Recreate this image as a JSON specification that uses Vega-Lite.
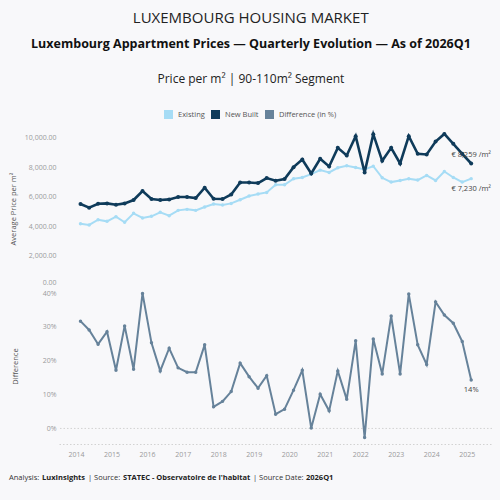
{
  "$schema": "https://vega.github.io/schema/vega-lite/v6.json",
  "background": "#f8f8fa",
  "padding": {"left": 9, "top": 10, "right": 7, "bottom": 30},
  "config": {
    "font": "Open Sans",
    "view": {"stroke": null},
    "legend": {"layout": {"top": {"anchor": "middle"}}}
  },
  "title": {
    "text": "LUXEMBOURG HOUSING MARKET",
    "fontSize": 15,
    "fontWeight": "normal",
    "color": "#222222",
    "anchor": "middle",
    "offset": 12
  },
  "datasets": {
    "prices": [
      {"date": "2014-02-15", "existing": 4169, "new_built": 5505, "difference": 0.317},
      {"date": "2014-05-15", "existing": 4080, "new_built": 5254, "difference": 0.291},
      {"date": "2014-08-15", "existing": 4440, "new_built": 5525, "difference": 0.249},
      {"date": "2014-11-15", "existing": 4327, "new_built": 5546, "difference": 0.286},
      {"date": "2015-02-15", "existing": 4644, "new_built": 5458, "difference": 0.172},
      {"date": "2015-05-15", "existing": 4260, "new_built": 5546, "difference": 0.303},
      {"date": "2015-08-15", "existing": 4870, "new_built": 5775, "difference": 0.175},
      {"date": "2015-11-15", "existing": 4554, "new_built": 6386, "difference": 0.399},
      {"date": "2016-02-15", "existing": 4667, "new_built": 5844, "difference": 0.253},
      {"date": "2016-05-15", "existing": 4938, "new_built": 5775, "difference": 0.170},
      {"date": "2016-08-15", "existing": 4712, "new_built": 5819, "difference": 0.237},
      {"date": "2016-11-15", "existing": 5073, "new_built": 5978, "difference": 0.179},
      {"date": "2017-02-15", "existing": 5141, "new_built": 5978, "difference": 0.166},
      {"date": "2017-05-15", "existing": 5073, "new_built": 5910, "difference": 0.166},
      {"date": "2017-08-15", "existing": 5300, "new_built": 6610, "difference": 0.247},
      {"date": "2017-11-15", "existing": 5510, "new_built": 5864, "difference": 0.064},
      {"date": "2018-02-15", "existing": 5435, "new_built": 5844, "difference": 0.080},
      {"date": "2018-05-15", "existing": 5546, "new_built": 6158, "difference": 0.109},
      {"date": "2018-08-15", "existing": 5797, "new_built": 6970, "difference": 0.193},
      {"date": "2018-11-15", "existing": 6045, "new_built": 6970, "difference": 0.153},
      {"date": "2019-02-15", "existing": 6180, "new_built": 6926, "difference": 0.119},
      {"date": "2019-05-15", "existing": 6293, "new_built": 7265, "difference": 0.156},
      {"date": "2019-08-15", "existing": 6814, "new_built": 7085, "difference": 0.042},
      {"date": "2019-11-15", "existing": 6814, "new_built": 7198, "difference": 0.057},
      {"date": "2020-02-15", "existing": 7220, "new_built": 8012, "difference": 0.113},
      {"date": "2020-05-15", "existing": 7310, "new_built": 8530, "difference": 0.172},
      {"date": "2020-08-15", "existing": 7537, "new_built": 7582, "difference": 0.001},
      {"date": "2020-11-15", "existing": 7808, "new_built": 8576, "difference": 0.101},
      {"date": "2021-02-15", "existing": 7650, "new_built": 8056, "difference": 0.052},
      {"date": "2021-05-15", "existing": 7966, "new_built": 9322, "difference": 0.170},
      {"date": "2021-08-15", "existing": 8100, "new_built": 8802, "difference": 0.086},
      {"date": "2021-11-15", "existing": 7989, "new_built": 10115, "difference": 0.259},
      {"date": "2022-02-15", "existing": 7853, "new_built": 7650, "difference": -0.027},
      {"date": "2022-05-15", "existing": 8080, "new_built": 10250, "difference": 0.264},
      {"date": "2022-08-15", "existing": 7288, "new_built": 8440, "difference": 0.161},
      {"date": "2022-11-15", "existing": 6995, "new_built": 9322, "difference": 0.332},
      {"date": "2023-02-15", "existing": 7107, "new_built": 8260, "difference": 0.161},
      {"date": "2023-05-15", "existing": 7220, "new_built": 10115, "difference": 0.397},
      {"date": "2023-08-15", "existing": 7130, "new_built": 8915, "difference": 0.247},
      {"date": "2023-11-15", "existing": 7446, "new_built": 8870, "difference": 0.189},
      {"date": "2024-02-15", "existing": 7107, "new_built": 9750, "difference": 0.374},
      {"date": "2024-05-15", "existing": 7717, "new_built": 10270, "difference": 0.335},
      {"date": "2024-08-15", "existing": 7310, "new_built": 9593, "difference": 0.311},
      {"date": "2024-11-15", "existing": 6995, "new_built": 8915, "difference": 0.257},
      {"date": "2025-02-15", "existing": 7230, "new_built": 8259, "difference": 0.143}
    ]
  },
  "spacing": 16,
  "resolve": {"legend": {"color": "independent"}},
  "vconcat": [
    {
      "spacing": 30,
      "bounds": "flush",
      "resolve": {"legend": {"color": "independent"}},
      "hconcat": [
        {"width": 0, "height": 0, "data": {"values": [{}]}, "mark": {"type": "point", "opacity": 0, "size": 0}, "encoding": {}},
        {
          "title": {
            "text": "Luxembourg Appartment Prices — Quarterly Evolution — As of 2026Q1",
            "subtitle": "Price per m² | 90-110m² Segment",
            "fontSize": 12.5,
            "fontWeight": "bold",
            "color": "#111111",
            "subtitleFontSize": 12,
            "subtitleColor": "#222222",
            "subtitlePadding": 24,
            "anchor": "middle",
            "offset": 25
          },
          "spacing": 3,
          "vconcat": [
            {
              "width": 433,
              "height": 153,
              "data": {"name": "prices"},
              "layer": [
                {
                  "mark": {"type": "line", "strokeWidth": 2, "point": {"filled": true, "size": 12}},
                  "encoding": {
                    "x": {"field": "date", "type": "temporal", "scale": {"domain": [{"year": 2013, "month": 7, "date": 9}, {"year": 2025, "month": 9, "date": 17}]}, "axis": null},
                    "y": {
                      "field": "existing", "type": "quantitative", "title": "Average Price per m²",
                      "scale": {"domain": [0, 10400], "nice": false},
                      "axis": {
                        "values": [0, 2000, 4000, 6000, 8000, 10000], "tickCount": 12, "format": ",.2f", "labelFlush": true, "labelOverlap": false,
                        "grid": false, "ticks": false, "domain": false,
                        "labelColor": "#9a9a9a", "labelFontSize": 7, "labelPadding": 3,
                        "titleColor": "#555555", "titleFontSize": 7.5, "titleFontWeight": "normal", "titlePadding": 7
                      }
                    },
                    "color": {
                      "datum": "existing", "type": "nominal",
                      "scale": {"domain": ["existing", "new_built", "difference"], "range": ["#a6dcf5", "#0f3b5a", "#66829a"]},
                      "legend": {
                        "orient": "top", "title": null, "direction": "horizontal",
                        "symbolType": "square", "symbolSize": 81, "symbolStrokeWidth": 0,
                        "labelFontSize": 7.5, "labelColor": "#555555", "labelOffset": 5, "columnPadding": 6, "offset": 9,
                        "labelExpr": "{'existing': 'Existing', 'new_built': 'New Built', 'difference': 'Difference (in %)'}[datum.label]",
                        "encode": {"symbols": {"update": {"fill": {"scale": "color", "field": "value"}, "stroke": {"value": "transparent"}, "opacity": {"value": 1}}}}
                      }
                    }
                  }
                },
                {
                  "mark": {"type": "line", "strokeWidth": 2.6, "point": {"filled": true, "size": 16}},
                  "encoding": {
                    "x": {"field": "date", "type": "temporal"},
                    "y": {"field": "new_built", "type": "quantitative", "title": "Average Price per m²"},
                    "color": {"datum": "new_built", "type": "nominal"}
                  }
                },
                {
                  "transform": [
                    {"filter": "year(datum.date) === 2025"},
                    {"calculate": "'€ ' + format(datum.new_built, ',') + ' /m²'", "as": "label"}
                  ],
                  "mark": {"type": "text", "dy": -8, "fontSize": 7.5, "color": "#444444"},
                  "encoding": {
                    "x": {"field": "date", "type": "temporal"},
                    "y": {"field": "new_built", "type": "quantitative", "title": "Average Price per m²"},
                    "text": {"field": "label"}
                  }
                },
                {
                  "transform": [
                    {"filter": "year(datum.date) === 2025"},
                    {"calculate": "'€ ' + format(datum.existing, ',') + ' /m²'", "as": "label"}
                  ],
                  "mark": {"type": "text", "dy": 10, "fontSize": 7.5, "color": "#444444"},
                  "encoding": {
                    "x": {"field": "date", "type": "temporal"},
                    "y": {"field": "existing", "type": "quantitative", "title": "Average Price per m²"},
                    "text": {"field": "label"}
                  }
                }
              ]
            },
            {
              "width": 433,
              "height": 156,
              "layer": [
                {
                  "data": {"values": [{}]},
                  "mark": {"type": "rule", "strokeDash": [1.5, 2], "color": "#d2d2d2", "strokeWidth": 1},
                  "encoding": {"y": {"datum": 0, "type": "quantitative"}}
                },
                {
                  "data": {"name": "prices"},
                  "mark": {"type": "line", "strokeWidth": 2, "point": {"filled": true, "size": 12}},
                  "encoding": {
                    "x": {
                      "field": "date", "type": "temporal", "title": null,
                      "scale": {"domain": [{"year": 2013, "month": 7, "date": 9}, {"year": 2025, "month": 9, "date": 17}]},
                      "axis": {
                        "format": "%Y", "tickCount": {"interval": "year", "step": 1}, "grid": false, "ticks": false,
                        "domainColor": "#d2d2d2", "domainDash": [1.5, 2], "domainWidth": 1,
                        "labelColor": "#9a9a9a", "labelFontSize": 7, "labelPadding": 6
                      }
                    },
                    "y": {
                      "field": "difference", "type": "quantitative", "title": "Difference",
                      "scale": {"domain": [-0.046, 0.415], "nice": false},
                      "axis": {
                        "values": [0, 0.1, 0.2, 0.3, 0.4], "tickCount": 12, "format": ".0%", "labelOverlap": false,
                        "grid": false, "ticks": false, "domain": false,
                        "labelColor": "#9a9a9a", "labelFontSize": 7, "labelPadding": 3,
                        "titleColor": "#555555", "titleFontSize": 7.5, "titleFontWeight": "normal", "titlePadding": 23
                      }
                    },
                    "color": {"datum": "difference", "type": "nominal"}
                  }
                },
                {
                  "data": {"name": "prices"},
                  "transform": [{"filter": "year(datum.date) === 2025"}],
                  "mark": {"type": "text", "dy": 10, "fontSize": 7.5, "color": "#444444"},
                  "encoding": {
                    "x": {"field": "date", "type": "temporal"},
                    "y": {"field": "difference", "type": "quantitative"},
                    "text": {"field": "difference", "format": ".0%"}
                  }
                }
              ]
            }
          ]
        }
      ]
    },
    {
      "spacing": 2,
      "hconcat": [
        {"width": 0, "height": 0, "data": {"values": [{}]}, "mark": {"type": "point", "opacity": 0, "size": 0}, "encoding": {},
         "title": {"text": "Analysis:", "fontSize": 7.5, "fontWeight": "normal", "color": "#333333", "anchor": "start", "offset": 0}},
        {"width": 0, "height": 0, "data": {"values": [{}]}, "mark": {"type": "point", "opacity": 0, "size": 0}, "encoding": {},
         "title": {"text": "LuxInsights", "fontSize": 7.5, "fontWeight": "bold", "color": "#222222", "anchor": "start", "offset": 0}},
        {"width": 0, "height": 0, "data": {"values": [{}]}, "mark": {"type": "point", "opacity": 0, "size": 0}, "encoding": {},
         "title": {"text": "| Source:", "fontSize": 7.5, "fontWeight": "normal", "color": "#333333", "anchor": "start", "offset": 0}},
        {"width": 0, "height": 0, "data": {"values": [{}]}, "mark": {"type": "point", "opacity": 0, "size": 0}, "encoding": {},
         "title": {"text": "STATEC - Observatoire de l'habitat", "fontSize": 7.5, "fontWeight": "bold", "color": "#222222", "anchor": "start", "offset": 0}},
        {"width": 0, "height": 0, "data": {"values": [{}]}, "mark": {"type": "point", "opacity": 0, "size": 0}, "encoding": {},
         "title": {"text": "| Source Date:", "fontSize": 7.5, "fontWeight": "normal", "color": "#333333", "anchor": "start", "offset": 0}},
        {"width": 0, "height": 0, "data": {"values": [{}]}, "mark": {"type": "point", "opacity": 0, "size": 0}, "encoding": {},
         "title": {"text": "2026Q1", "fontSize": 7.5, "fontWeight": "bold", "color": "#222222", "anchor": "start", "offset": 0}}
      ]
    }
  ]
}
